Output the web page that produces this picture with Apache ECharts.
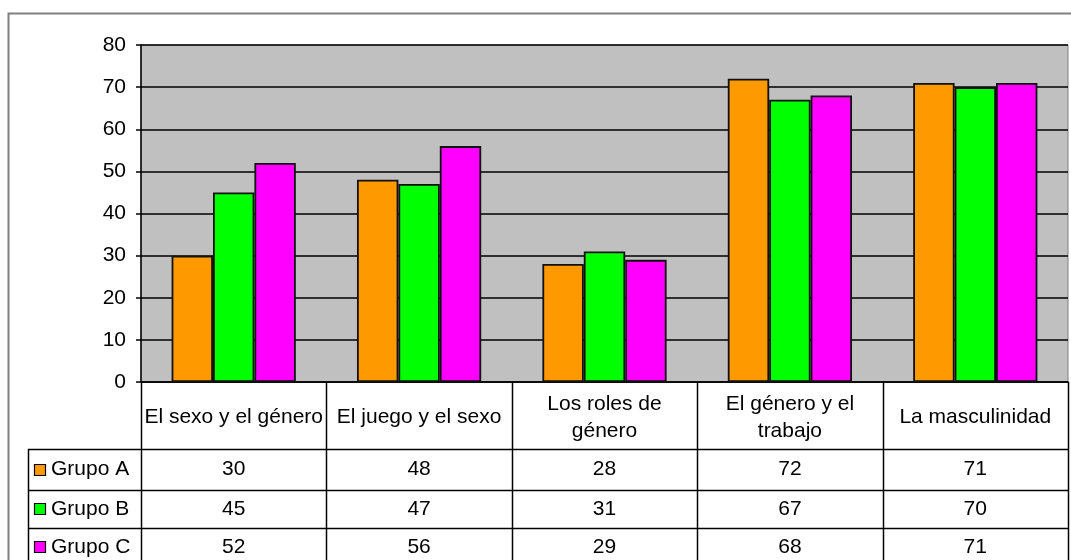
<!DOCTYPE html>
<html>
<head>
<meta charset="utf-8">
<script src="https://cdn.jsdelivr.net/npm/echarts@6/dist/echarts.min.js"></script>
<style>
  html, body { margin: 0; padding: 0; background: #fff; }
  #chart { width: 1071px; height: 560px; }
</style>
</head>
<body>
<div id="chart"></div>
<script>
// datos del grafico
var categorias = ['El sexo y el género', 'El juego y el sexo', 'Los roles de\ngénero', 'El género y el\ntrabajo', 'La masculinidad'];
var grupos = ['Grupo A', 'Grupo B', 'Grupo C'];
var grupoA = [30, 48, 28, 72, 71];
var grupoB = [45, 47, 31, 67, 70];
var grupoC = [52, 56, 29, 68, 71];
var colores = ['#FF9900', '#00FF00', '#FF00FF'];

var valores = [grupoA, grupoB, grupoC];
var FONT = '21px "Liberation Sans", Arial, sans-serif';

// grid layout
var gLeft = 141, gTop = 45, gRight = 1068, gBottom = 382;
var colW = (gRight - gLeft) / categorias.length;
var filas = [382, 449, 490, 528, 600];
var legIzq = 28;

var series = grupos.map(function (g, i) {
    return {
        name: g,
        type: 'bar',
        data: valores[i],
        barGap: 0,
        barCategoryGap: '33%',
        itemStyle: { color: colores[i], borderColor: '#111', borderWidth: 1.8 },
        silent: true
    };
});

var graficos = [];
// borde exterior
graficos.push({
    type: 'rect', z: -10,
    shape: { x: 8.5, y: 13.5, width: 1100, height: 700 },
    style: { fill: 'none', stroke: '#808080', lineWidth: 2 }
});

function linea(x1, y1, x2, y2) {
    graficos.push({
        type: 'line', z: 50,
        shape: { x1: x1, y1: y1, x2: x2, y2: y2 },
        style: { stroke: '#000', lineWidth: 1.5 }
    });
}
function texto(t, x, y) {
    graficos.push({
        type: 'text', z: 60, x: x, y: y,
        style: { text: t, font: FONT, fill: '#000', align: 'center', verticalAlign: 'middle', lineHeight: 27 }
    });
}

// tabla de datos: lineas verticales
for (var c = 0; c <= categorias.length; c++) {
    var x = Math.round(gLeft + c * colW) + 0.5;
    linea(x, gBottom, x, 560);
}
linea(legIzq + 0.5, filas[1], legIzq + 0.5, 560);
// lineas horizontales
for (var r = 1; r <= 3; r++) {
    linea(legIzq, filas[r] + 0.5, gRight, filas[r] + 0.5);
}
// encabezados
categorias.forEach(function (cat, c) {
    texto(cat, gLeft + (c + 0.5) * colW, (filas[0] + filas[1]) / 2 + 2);
});
// filas de valores con leyenda
grupos.forEach(function (g, r) {
    var yc = (filas[r + 1] + Math.min(filas[r + 2], 566)) / 2;
    graficos.push({
        type: 'rect', z: 60,
        shape: { x: 34.5, y: Math.round(yc) - 5.5, width: 11, height: 11 },
        style: { fill: colores[r], stroke: '#000', lineWidth: 1.2 }
    });
    graficos.push({
        type: 'text', z: 60, x: 51, y: yc,
        style: { text: g, font: FONT, fill: '#000', align: 'left', verticalAlign: 'middle' }
    });
    valores[r].forEach(function (v, c) {
        texto(String(v), gLeft + (c + 0.5) * colW, yc);
    });
});

var option = {
    animation: false,
    grid: {
        left: gLeft, top: gTop, right: 1071 - gRight, bottom: 560 - gBottom,
        show: true, backgroundColor: '#C0C0C0', borderColor: '#808080', borderWidth: 1
    },
    xAxis: {
        type: 'category',
        data: categorias,
        axisLine: { lineStyle: { color: '#000', width: 1.5 } },
        axisTick: { show: false },
        axisLabel: { show: false },
        splitLine: { show: false }
    },
    yAxis: {
        type: 'value',
        min: 0, max: 80, interval: 10,
        axisLine: { show: true, lineStyle: { color: '#000', width: 1.5 } },
        axisTick: { show: true, length: 5, lineStyle: { color: '#000', width: 1.5 } },
        axisLabel: { color: '#000', fontSize: 21, fontFamily: '"Liberation Sans", Arial, sans-serif', margin: 15 },
        splitLine: { show: true, lineStyle: { color: '#000', width: 1.5 } }
    },
    series: series,
    graphic: graficos
};

var chart = echarts.init(document.getElementById('chart'));
chart.setOption(option);
</script>
</body>
</html>
